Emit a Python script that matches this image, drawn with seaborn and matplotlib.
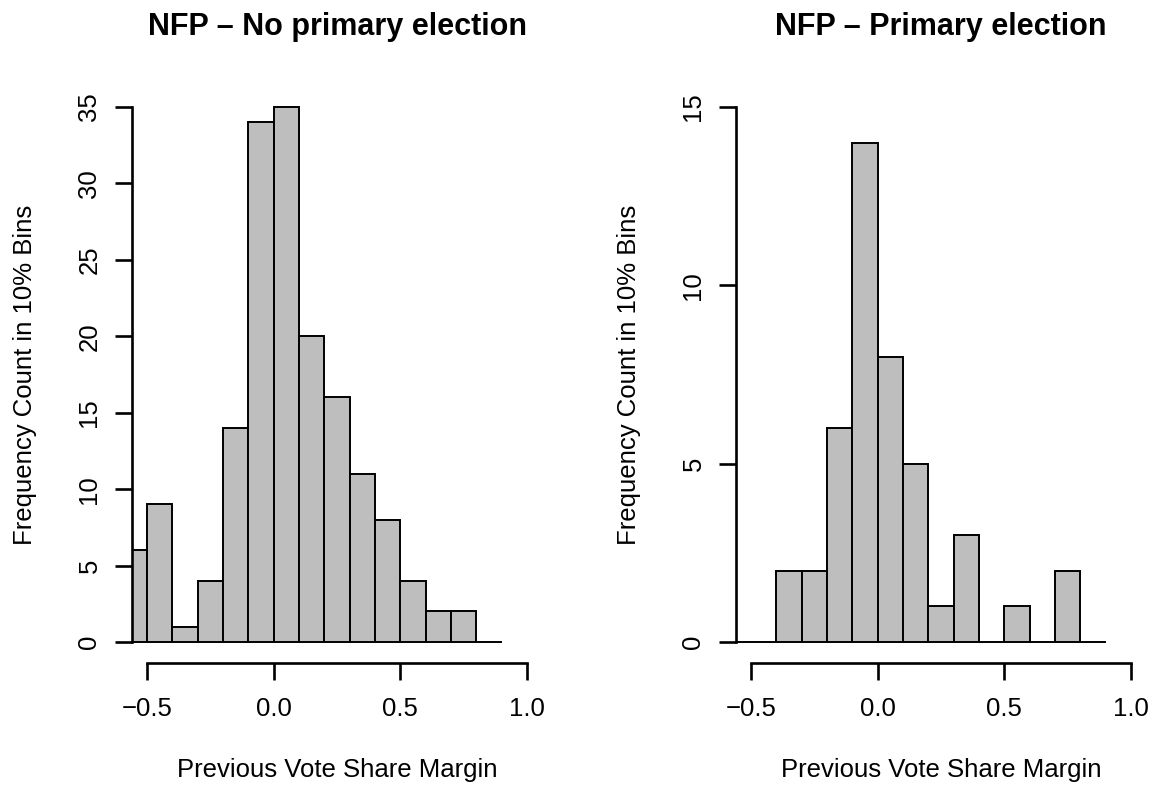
import matplotlib
matplotlib.use("Agg")
import matplotlib.pyplot as plt
import seaborn as sns

# bin edges (10% bins) and counts
bin_edges = [-0.6, -0.5, -0.4, -0.3, -0.2, -0.1, 0.0, 0.1, 0.2, 0.3, 0.4, 0.5, 0.6, 0.7, 0.8, 0.9]
counts_no_primary = [6, 9, 1, 4, 14, 34, 35, 20, 16, 11, 8, 4, 2, 2, 0]
counts_primary = [0, 0, 2, 2, 6, 14, 8, 5, 1, 3, 0, 1, 0, 2, 0]

titles = ["NFP \u2013 No primary election", "NFP \u2013 Primary election"]
y_ticks = [[0, 5, 10, 15, 20, 25, 30, 35], [0, 5, 10, 15]]
x_ticks = [-0.5, 0.0, 0.5, 1.0]
x_tick_labels = ["\u22120.5", "0.0", "0.5", "1.0"]
x_label = "Previous Vote Share Margin"
y_label = "Frequency Count in 10% Bins"

sns.set_style("white")
plt.rcParams['font.family'] = ['Liberation Sans', 'DejaVu Sans']
plt.rcParams['text.color'] = 'black'
plt.rcParams['axes.labelcolor'] = 'black'

fig = plt.figure(figsize=(11.59, 7.90), dpi=100)
W, H = 1159, 790
ax_top, ax_bot = 85.6, 663.4
lefts = [132, 736]
ax_w = 410
ax_h = ax_bot - ax_top

centers = [(a + b) / 2 for a, b in zip(bin_edges[:-1], bin_edges[1:])]

for i, counts in enumerate([counts_no_primary, counts_primary]):
    ax = fig.add_axes([lefts[i] / W, (H - ax_bot) / H, ax_w / W, ax_h / H])
    sns.histplot(x=centers, weights=counts, bins=bin_edges, ax=ax,
                 color="#BEBEBE", edgecolor="black", linewidth=1.4, alpha=1)
    ymax = y_ticks[i][-1]
    ax.set_xlim(-0.56, 1.06)
    ax.set_ylim(-0.04 * ymax, ymax * 1.04)
    ax.set_xticks(x_ticks)
    ax.set_xticklabels(x_tick_labels)
    ax.set_yticks(y_ticks[i])
    ax.set_yticklabels([str(t) for t in y_ticks[i]], rotation=90, va="center")
    for s in ["top", "right"]:
        ax.spines[s].set_visible(False)
    ax.spines["left"].set_bounds(0, ymax)
    ax.spines["bottom"].set_bounds(-0.5, 1.0)
    for s in ["left", "bottom"]:
        ax.spines[s].set_linewidth(1.9)
        ax.spines[s].set_color("black")
    ax.tick_params(axis="both", direction="out", length=12, width=1.9,
                   colors="black", labelsize=18.5, left=True, bottom=True)
    ax.tick_params(axis="x", pad=12)
    ax.tick_params(axis="y", pad=10)
    ax.set_xlabel(x_label, fontsize=18.5, va="center")
    ax.xaxis.set_label_coords(0.5, -(770 - ax_bot) / ax_h)
    ax.set_ylabel(y_label, fontsize=18.5, va="center")
    ax.yaxis.set_label_coords(-107 / ax_w, 0.5)
    ax.set_title(titles[i], fontsize=22, fontweight="bold",
                 y=1 + (ax_top - 35) / ax_h, pad=0)

plt.savefig("out.png", dpi=100)
